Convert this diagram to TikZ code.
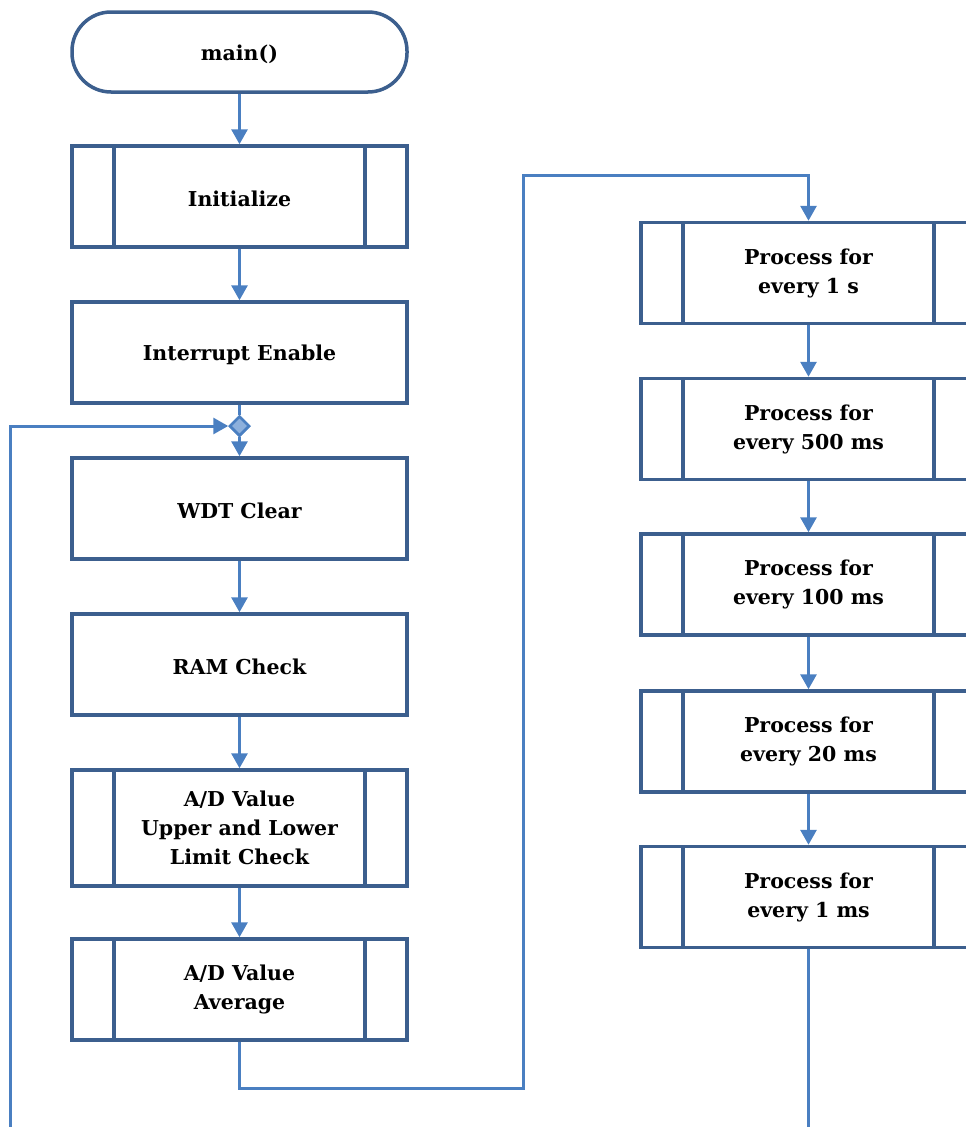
\documentclass[tikz,border=0pt]{standalone}
\usepackage{fontspec}
\setmainfont{DejaVu Serif}
\usetikzlibrary{arrows.meta,shapes.geometric}
\definecolor{boxc}{HTML}{3C5F8E}
\definecolor{linec}{HTML}{4A7FC1}
\definecolor{diac}{HTML}{8DB0DC}
\tikzset{
  txt/.style={font=\fontsize{20.5}{29}\selectfont\bfseries, align=center, text=black,
    execute at begin node={\rule{0pt}{20.5pt}}},
  proc/.style={txt, draw=boxc, line width=3.5pt, rectangle, minimum width=335pt, minimum height=101pt, inner sep=0pt},
  sub/.style={proc, path picture={
      \draw[boxc, line width=3.5pt] ([xshift=42pt]path picture bounding box.north west) -- ([xshift=42pt]path picture bounding box.south west);
      \draw[boxc, line width=3.5pt] ([xshift=-42pt]path picture bounding box.north east) -- ([xshift=-42pt]path picture bounding box.south east);}},
  term/.style={txt, draw=boxc, line width=3.5pt, rectangle, rounded corners=39pt, minimum width=335pt, minimum height=80pt, inner sep=0pt},
  conn/.style={draw=linec, line width=3pt},
  arr/.style={conn, -{Triangle[length=15pt,width=16pt]}},
  junc/.style={diamond, draw=linec, fill=diac, line width=2.5pt, minimum size=20pt, inner sep=0pt, execute at begin node={}}
}
\begin{document}
\begin{tikzpicture}[x=1pt,y=-1pt]
\useasboundingbox (0,0) rectangle (966,1127);
\clip (0,0) rectangle (966,1127);
\node[term] (main) at (239.5,52) {main()};
\node[sub] (init) at (239.5,196.5) {Initialize};
\node[proc] (ie) at (239.5,352.5) {Interrupt Enable};
\node[junc] (j) at (239.5,426) {};
\node[proc] (wdt) at (239.5,508.5) {WDT Clear};
\node[proc] (ram) at (239.5,664.5) {RAM Check};
\node[sub, minimum height=116pt] (lim) at (239.5,828) {A/D Value\\Upper and Lower\\Limit Check};
\node[sub] (avg) at (239.5,989.5) {A/D Value\\Average};
\node[sub] (p1) at (808.5,273) {Process for\\every 1 s};
\node[sub] (p2) at (808.5,429) {Process for\\every 500 ms};
\node[sub] (p3) at (808.5,584.5) {Process for\\every 100 ms};
\node[sub] (p4) at (808.5,741.5) {Process for\\every 20 ms};
\node[sub] (p5) at (808.5,897) {Process for\\every 1 ms};
\coordinate (lb) at (10,1127);
\coordinate (c1) at (523,1088);
\coordinate (c2) at (523,175);
\coordinate (rb) at (808.5,1127);
\draw[arr] (main) -- (init);
\draw[arr] (init) -- (ie);
\draw[conn] (ie) -- (j);
\draw[arr] (j) -- (wdt);
\draw[arr] (lb) |- (j);
\draw[arr] (wdt) -- (ram);
\draw[arr] (ram) -- (lim);
\draw[arr] (lim) -- (avg);
\draw[arr] (avg.south) |- (c1) -- (c2) -| (p1.north);
\draw[arr] (p1) -- (p2);
\draw[arr] (p2) -- (p3);
\draw[arr] (p3) -- (p4);
\draw[arr] (p4) -- (p5);
\draw[conn] (p5) -- (rb);
\node[junc] at (j) {};
\end{tikzpicture}
\end{document}
